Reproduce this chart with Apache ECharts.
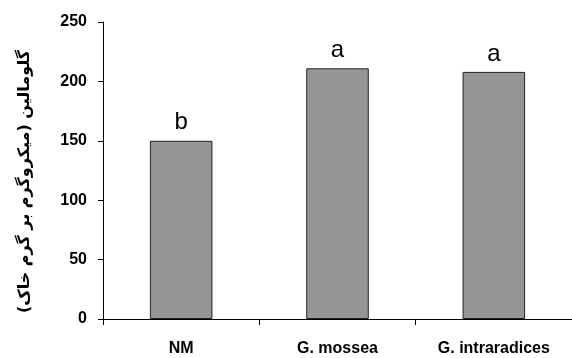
<!DOCTYPE html>
<html>
<head>
<meta charset="utf-8">
<script src="https://cdn.jsdelivr.net/npm/echarts@6/dist/echarts.min.js"></script>
<style>html,body{margin:0;padding:0;background:#fff;}#c{width:572px;height:358px;}</style>
</head>
<body>
<div id="c"></div>
<script>
const categories = ['NM', 'G. mossea', 'G. intraradices'];
const values = [150, 211, 208];
const letters = ['b', 'a', 'a'];
const yTicks = [0, 50, 100, 150, 200, 250];
const yName = 'گلومالین (میکروگرم بر گرم خاک)';

const chart = echarts.init(document.getElementById('c'), null, {renderer: 'canvas'});
chart.setOption({
  animation: false,
  backgroundColor: '#fff',
  grid: {left: 103, right: -10, top: 22, bottom: 39, containLabel: false},
  xAxis: {
    type: 'category',
    data: categories,
    axisLine: {lineStyle: {color: '#000', width: 1}},
    axisTick: {show: true, length: 6, alignWithLabel: false, lineStyle: {color: '#000'}},
    axisLabel: {color: '#000', fontFamily: 'Liberation Sans, Arial', fontWeight: 'bold', fontSize: 16, margin: 22}
  },
  yAxis: {
    type: 'value',
    min: yTicks[0],
    max: yTicks[yTicks.length - 1],
    interval: yTicks[1] - yTicks[0],
    name: yName,
    nameLocation: 'middle',
    nameGap: 70,
    nameRotate: 90,
    nameTextStyle: {color: '#000', fontFamily: 'DejaVu Sans', fontWeight: 'bold', fontSize: 16, padding: [0, 22, 0, 0]},
    splitLine: {show: false},
    axisLine: {show: true, lineStyle: {color: '#000', width: 1}},
    axisTick: {show: true, length: 5, lineStyle: {color: '#000'}},
    axisLabel: {color: '#000', fontFamily: 'Liberation Sans, Arial', fontWeight: 'bold', fontSize: 16, margin: 16}
  },
  series: [{
    type: 'bar',
    data: values.map((v, i) => ({value: v, label: {formatter: letters[i]}})),
    barWidth: '40%',
    itemStyle: {color: '#969696', borderColor: '#222', borderWidth: 1},
    label: {
      show: true,
      position: 'top',
      distance: 6,
      color: '#000',
      fontFamily: 'Liberation Sans Narrow, Arial Narrow, Liberation Sans',
      fontSize: 24
    }
  }]
});
</script>
</body>
</html>
